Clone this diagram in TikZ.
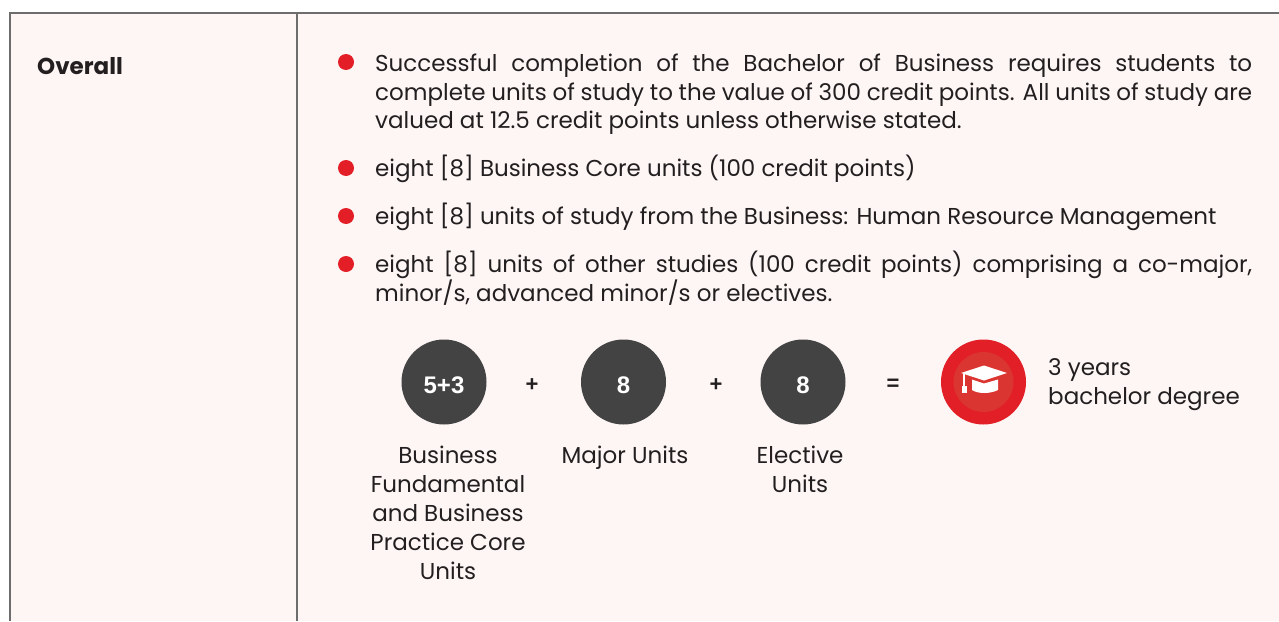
\documentclass[tikz,border=0pt]{standalone}
\usepackage{fontspec}
\setmainfont{Poppins}
\newfontfamily\numfont{Liberation Sans}
\definecolor{bgpink}{HTML}{FDF6F5}
\definecolor{rulegray}{HTML}{6D6D6D}
\definecolor{txtdark}{HTML}{231F20}
\definecolor{bulletred}{HTML}{E31E26}
\definecolor{badgered}{HTML}{E21F26}
\definecolor{badgeinner}{HTML}{DA3530}
\definecolor{discgray}{HTML}{434343}
\tikzset{
  rulestyle/.style={draw=rulegray, line width=2pt},
  txt/.style={inner sep=0pt, anchor=base west, text=txtdark, font=\fontsize{23}{29}\selectfont},
  lbl/.style={inner sep=0pt, anchor=base, text=txtdark, font=\fontsize{23}{29}\selectfont},
  headtxt/.style={inner sep=0pt, anchor=base west, text=txtdark, font=\bfseries\fontsize{23}{29}\selectfont},
  bulletdot/.style={circle, fill=bulletred, inner sep=0pt, minimum size=16pt},
  disc/.style={circle, fill=discgray, inner sep=0pt, minimum size=85pt},
  disctxt/.style={inner sep=0pt, text=white, font=\numfont\bfseries\fontsize{24}{28}\selectfont},
  opsign/.style={inner sep=0pt, text=txtdark, font=\numfont\bfseries\fontsize{22}{26}\selectfont},
  badge/.style={circle, fill=badgered, inner sep=0pt, minimum size=85pt},
  badgein/.style={circle, fill=badgeinner, inner sep=0pt, minimum size=60pt},
}
\begin{document}
\begin{tikzpicture}[x=1pt,y=-1pt]
\useasboundingbox (0,0) rectangle (1279,621);
\fill[white] (0,0) rectangle (1279,621);
\fill[bgpink] (10,13) rectangle (1279,621);
\draw[rulestyle] (9,13) -- (1279,13);
\draw[rulestyle] (10,13) -- (10,621);
\draw[rulestyle] (297,13) -- (297,621);

\node[headtxt] (head) at (37,74) {Overall};

\node[bulletdot] (d1) at (346,62) {};
\node[bulletdot] (d2) at (346,168) {};
\node[bulletdot] (d3) at (346,216) {};
\node[bulletdot] (d4) at (346,264) {};

\node[txt] (l1) at (375,71) {\makebox[877pt][s]{Successful completion of the Bachelor of Business requires students to}};
\node[txt] (l2) at (375,100) {\makebox[877pt][s]{complete units of study to the value of 300 credit points. All units of study are}};
\node[txt] (l3) at (375,128.5) {valued at 12.5 credit points unless otherwise stated.};
\node[txt] (l4) at (375,176) {eight [8] Business Core units (100 credit points)};
\node[txt] (l5) at (375,224) {eight [8] units of study from the Business: Human Resource Management};
\node[txt] (l6) at (375,272) {\makebox[877pt][s]{eight [8] units of other studies (100 credit points) comprising a co-major,}};
\node[txt] (l7) at (375,301) {minor/s, advanced minor/s or electives.};

\node[disc] (c1) at (444,382) {};
\node[disctxt] (t1) at (444,385) {5+3};
\node[opsign] (p1) at (532,385) {+};
\node[disc] (c2) at (623.5,382) {};
\node[disctxt] (t2) at (623.5,385) {8};
\node[opsign] (p2) at (716,385) {+};
\node[disc] (c3) at (803,382) {};
\node[disctxt] (t3) at (803,385) {8};
\node[opsign] (eq) at (893,385) {=};
\node[badge] (deg) at (983.5,382) {};
\node[badgein] (degin) at (deg.center) {};

% graduation cap icon
\fill[white] (961,373) -- (984,365.5) -- (1007,373) -- (984,380.5) -- cycle;
\fill[white] (972,379.5) -- (984,383.5) -- (998,379.5) -- (998,390) .. controls (990,394) and (978,394) .. (972,390) -- cycle;
\draw[white, line width=1.6pt] (964,374) -- (964,388);
\fill[white] (962,386) rectangle (966.5,393);

\node[txt] (y1) at (1048,375) {3 years};
\node[txt] (y2) at (1048,404) {bachelor degree};

\node[lbl] (b1) at (448,463) {Business};
\node[lbl] (b2) at (448,492) {Fundamental};
\node[lbl] (b3) at (448,521) {and Business};
\node[lbl] (b4) at (448,550) {Practice Core};
\node[lbl] (b5) at (448,579) {Units};

\node[lbl] (m1) at (625,463) {Major Units};

\node[lbl] (e1) at (800,463) {Elective};
\node[lbl] (e2) at (800,492) {Units};
\end{tikzpicture}
\end{document}
